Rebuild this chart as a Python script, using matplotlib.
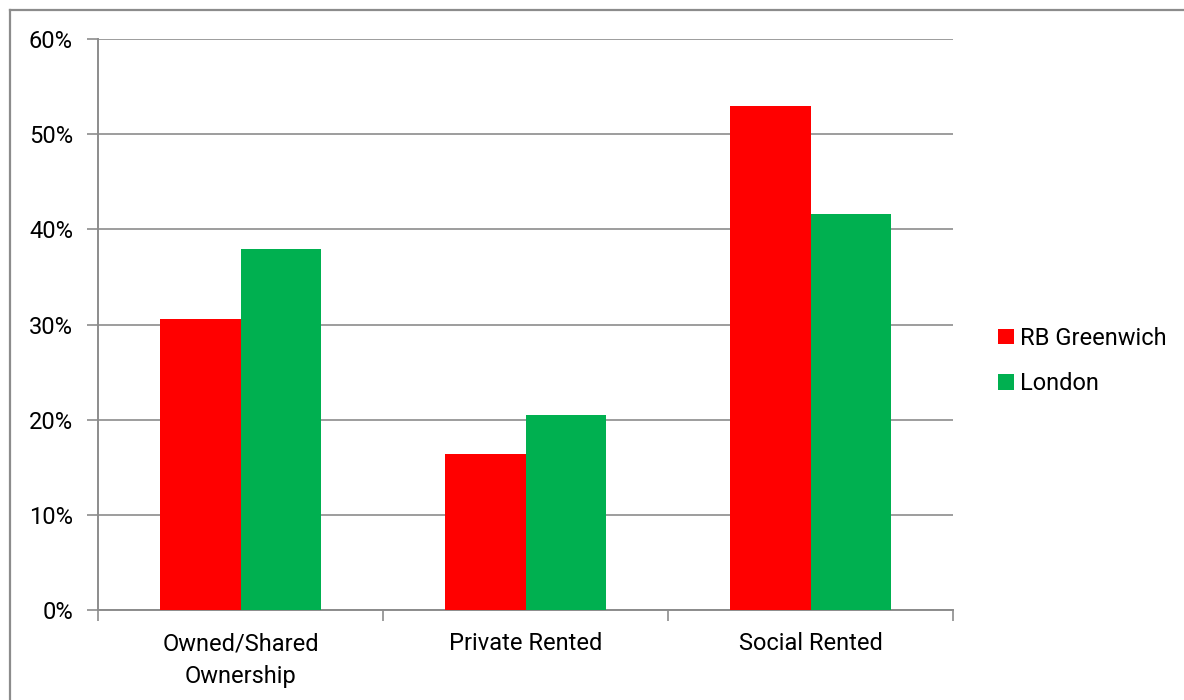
import matplotlib
matplotlib.use("Agg")
import matplotlib.pyplot as plt
from matplotlib.lines import Line2D
from matplotlib.patches import Patch
import numpy as np

plt.rcParams['font.family'] = ['Roboto', 'DejaVu Sans']

categories = ["Owned/Shared\nOwnership", "Private Rented", "Social Rented"]
greenwich = [30.6, 16.4, 53.0]
london = [37.9, 20.5, 41.6]
series_names = ["RB Greenwich", "London"]
colors = ["#ff0000", "#00b050"]
yticks = [0, 10, 20, 30, 40, 50, 60]
ytick_labels = ["0%", "10%", "20%", "30%", "40%", "50%", "60%"]

W, H = 1184, 700
fig = plt.figure(figsize=(W / 100, H / 100), dpi=100)
ax = fig.add_axes([98 / W, 90 / H, (953 - 98) / W, (610 - 39) / H])

grid_c = "#8c8c8c"
x = np.arange(len(categories))
bw = 0.284
ax.bar(x - bw / 2, greenwich, bw, color=colors[0], zorder=3)
ax.bar(x + bw / 2, london, bw, color=colors[1], zorder=3)

ax.set_xlim(-0.5, len(categories) - 0.5)
ax.set_ylim(0, 60)
ax.set_yticks(yticks)
ax.set_yticklabels(ytick_labels, fontsize=17)
ax.yaxis.grid(True, color=grid_c, linewidth=1.2, zorder=0)
ax.set_axisbelow(True)

ax.set_xticks(x)
ax.set_xticklabels(categories, fontsize=17, linespacing=1.55)
ax.tick_params(axis='x', length=0, pad=16)
ax.set_xticks(np.arange(len(categories) + 1) - 0.5, minor=True)
ax.tick_params(axis='x', which='minor', length=8, color=grid_c, width=1.2)
ax.tick_params(axis='y', length=8, color=grid_c, width=1.2, pad=10)

for s in ["top", "right"]:
    ax.spines[s].set_visible(False)
for s in ["left", "bottom"]:
    ax.spines[s].set_color(grid_c)
    ax.spines[s].set_linewidth(1.4)

handles = [Patch(facecolor=c, edgecolor='none') for c in colors]
fig.legend(handles, series_names, loc='center left',
           bbox_to_anchor=(977 / W, 1 - 361 / H), frameon=False,
           fontsize=17, handlelength=0.65, handleheight=0.65,
           handletextpad=0.25, labelspacing=0.95)

# chart area border
fig.add_artist(Line2D([10 / W, 10 / W], [0, 1 - 10 / H], transform=fig.transFigure,
                      color="#8c8c8c", linewidth=1.6))
fig.add_artist(Line2D([10 / W, 1], [1 - 10 / H, 1 - 10 / H], transform=fig.transFigure,
                      color="#8c8c8c", linewidth=1.6))

fig.savefig("out.png", dpi=100)
